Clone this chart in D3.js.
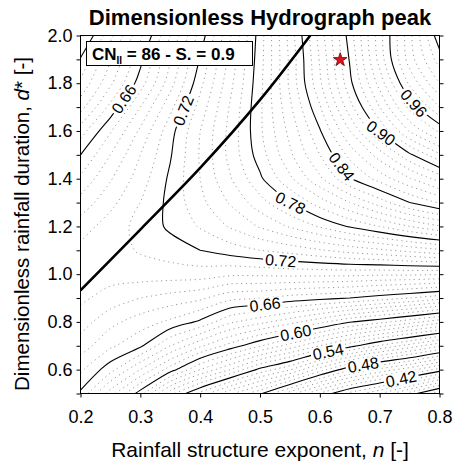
<!DOCTYPE html>
<html><head><meta charset="utf-8">
<script src="https://cdn.jsdelivr.net/npm/d3@7"></script>
<style>
body{margin:0;background:#fff}
text{font-family:"Liberation Sans",Arial,Helvetica,sans-serif;fill:#000}
</style>
</head><body>
<svg id="c" width="454" height="466"></svg>
<script>
// ---------- data ----------
const nValues = [0.2,0.25,0.3,0.35,0.4,0.45,0.5,0.55,0.6,0.65,0.7,0.75,0.8];
const dValues = [2.0,1.9,1.8,1.7,1.6,1.5,1.4,1.3,1.2,1.1,1.0,0.9,0.8,0.7,0.6,0.5];
// dimensionless peak, one row per dValues entry (top to bottom), one column per nValues entry
const peakRows = [
  [0.587,0.617,0.648,0.680,0.714,0.749,0.785,0.824,0.864,0.905,0.946,0.987,1.027],
  [0.601,0.629,0.657,0.689,0.721,0.753,0.786,0.822,0.861,0.901,0.944,0.985,1.015],
  [0.612,0.638,0.665,0.696,0.727,0.757,0.787,0.822,0.858,0.897,0.934,0.972,1.000],
  [0.626,0.653,0.680,0.707,0.734,0.761,0.788,0.818,0.849,0.886,0.920,0.953,0.980],
  [0.645,0.669,0.692,0.716,0.740,0.763,0.788,0.813,0.839,0.870,0.901,0.931,0.952],
  [0.660,0.680,0.700,0.719,0.741,0.763,0.785,0.808,0.830,0.853,0.875,0.898,0.918],
  [0.672,0.689,0.705,0.722,0.740,0.759,0.778,0.798,0.818,0.839,0.854,0.869,0.884],
  [0.684,0.697,0.710,0.723,0.737,0.751,0.766,0.780,0.795,0.810,0.825,0.840,0.851],
  [0.695,0.705,0.713,0.722,0.731,0.741,0.751,0.761,0.771,0.781,0.790,0.800,0.809],
  [0.703,0.706,0.711,0.715,0.720,0.725,0.730,0.734,0.739,0.744,0.748,0.753,0.758],
  [0.704,0.704,0.705,0.705,0.705,0.702,0.702,0.703,0.703,0.703,0.702,0.702,0.701],
  [0.702,0.696,0.690,0.686,0.682,0.673,0.671,0.666,0.663,0.660,0.655,0.650,0.644],
  [0.695,0.683,0.675,0.668,0.658,0.642,0.633,0.624,0.613,0.601,0.593,0.584,0.574],
  [0.685,0.672,0.662,0.640,0.622,0.606,0.591,0.576,0.560,0.544,0.529,0.516,0.502],
  [0.672,0.654,0.630,0.605,0.580,0.560,0.537,0.521,0.495,0.472,0.457,0.444,0.426],
  [0.658,0.625,0.595,0.554,0.527,0.502,0.482,0.455,0.429,0.407,0.391,0.366,0.342]
];
const minorLevels = d3.range(34,105).map(k => k/100);
const majorLevels = [0.36,0.42,0.48,0.54,0.60,0.66,0.72,0.78,0.84,0.90,0.96,1.02];
const labelLevels = [0.66,0.72,0.96,0.90,0.84,0.78,0.72,0.66,0.60,0.54,0.48,0.42];
const labelN      = [0.2735,0.3755,0.758,0.7014,0.6345,0.549,0.534,0.509,0.561,0.6145,0.673,0.7365];
const labelD      = [1.732,1.682,1.719,1.589,1.447,1.288,1.040,0.860,0.739,0.668,0.613,0.555];
const limitN = [0.2,0.3,0.4,0.5,0.584];
const limitD = [0.932,1.187,1.445,1.73,2.0];
const starN = [0.634], starD = [1.898];
const xTicks = [0.2,0.3,0.4,0.5,0.6,0.7,0.8];
const yTicks = [0.5,0.6,0.7,0.8,0.9,1.0,1.1,1.2,1.3,1.4,1.5,1.6,1.7,1.8,1.9,2.0];
const yLabelTicks = [0.6,0.8,1.0,1.2,1.4,1.6,1.8,2.0];

// ---------- layout ----------
const svg = d3.select('#c');
const x = d3.scaleLinear().domain([0.2,0.8]).range([80.5,439.5]);
const y = d3.scaleLinear().domain([0.5,2.0]).range([393.5,35.5]);
const nx = nValues.length, ny = dValues.length;
const gxs = d3.scaleLinear().domain([0.5, nx-0.5]).range([nValues[0], nValues[nx-1]]);
const gys = d3.scaleLinear().domain([0.5, ny-0.5]).range([dValues[0], dValues[ny-1]]);

svg.append('clipPath').attr('id','clip').append('rect')
  .attr('x',x(0.2)).attr('y',y(2.0)).attr('width',x(0.8)-x(0.2)).attr('height',y(0.5)-y(2.0));

const flat = peakRows.flat();
const contours = d3.contours().size([nx,ny]).thresholds(minorLevels)(flat);

function ringLines(ring){
  const eps = 1e-6;
  const inside = p => p[0]>=0.5-eps && p[0]<=nx-0.5+eps && p[1]>=0.5-eps && p[1]<=ny-0.5+eps;
  const pts = ring.slice(0, ring.length-1);
  const m = pts.length;
  const flags = pts.map(inside);
  if (flags.every(f=>f)) return [{pts: pts, closed: true}];
  const s = flags.indexOf(false);
  const out = []; let cur = [];
  for (let k=1;k<=m;k++){
    const i = (s+k)%m;
    if (flags[i]) cur.push(pts[i]);
    else { if (cur.length>1) out.push({pts:cur, closed:false}); cur = []; }
  }
  if (cur.length>1) out.push({pts:cur, closed:false});
  return out;
}
const toPx = p => [x(gxs(p[0])), y(gys(p[1]))];
const isMajor = v => majorLevels.some(m => Math.abs(m-v)<1e-6);

const lineOpen = d3.line().curve(d3.curveCatmullRom.alpha(0.5));
const lineClosed = d3.line().curve(d3.curveCatmullRomClosed.alpha(0.5));

const plot = svg.append('g').attr('clip-path','url(#clip)');
const minorG = plot.append('g');
const majorG = plot.append('g');
const majorPx = new Map();

contours.forEach(c => {
  const major = isMajor(c.value);
  const key = c.value.toFixed(2);
  c.coordinates.forEach(poly => poly.forEach(ring => {
    ringLines(ring).forEach(l => {
      const px = l.pts.map(toPx);
      if (major) {
        if (!majorPx.has(key)) majorPx.set(key, []);
        majorPx.get(key).push(l.closed ? px.concat([px[0]]) : px);
      }
      (major ? majorG : minorG).append('path')
        .attr('d', (l.closed ? lineClosed : lineOpen)(px))
        .attr('fill','none')
        .attr('stroke', major ? '#000' : '#9a9a9a')
        .attr('stroke-width', major ? 1.1 : 1)
        .attr('stroke-dasharray', major ? null : '1.2 3.6');
    });
  }));
});

// limit (thick) line
plot.append('path')
  .attr('d', d3.line().curve(d3.curveCatmullRom.alpha(0.5))(limitN.map((n,i)=>[x(n), y(limitD[i])])))
  .attr('fill','none').attr('stroke','#000').attr('stroke-width',2.6);

// contour labels
const labG = svg.append('g');
labelLevels.forEach((lv,i) => {
  const px = x(labelN[i]), py = y(labelD[i]);
  let best = {dist: Infinity, x: px, y: py, a: 0};
  (majorPx.get(lv.toFixed(2))||[]).forEach(pl => {
    for (let k=0;k<pl.length-1;k++){
      const a = pl[k], b = pl[k+1];
      const vx = b[0]-a[0], vy = b[1]-a[1];
      const L2 = vx*vx+vy*vy; if (L2===0) continue;
      let t = ((px-a[0])*vx + (py-a[1])*vy)/L2; t = Math.max(0, Math.min(1, t));
      const qx = a[0]+t*vx, qy = a[1]+t*vy;
      const dd = (qx-px)**2 + (qy-py)**2;
      if (dd < best.dist) best = {dist: dd, x: qx, y: qy, a: Math.atan2(vy, vx)};
    }
  });
  let ang = best.a*180/Math.PI;
  if (ang > 90) ang -= 180;
  if (ang < -90) ang += 180;
  const g = labG.append('g').attr('transform', `translate(${best.x},${best.y}) rotate(${ang})`);
  const t = g.append('text').text(lv.toFixed(2))
    .attr('text-anchor','middle').attr('dy','0.36em').style('font-size','16px');
  const bb = t.node().getBBox();
  g.insert('rect','text').attr('x', bb.x-2).attr('y', bb.y+2)
    .attr('width', bb.width+4).attr('height', bb.height-4).attr('fill','#fff');
});

// info box
const box = svg.append('g');
box.append('rect').attr('x',86.5).attr('y',41.5).attr('width',166).attr('height',24)
  .attr('fill','#fff').attr('stroke','#000').attr('stroke-width',1);
const bt = box.append('text').attr('x',92).attr('y',60).style('font-size','17px').style('font-weight','bold');
bt.append('tspan').text('CN');
bt.append('tspan').text('II').style('font-size','10px').attr('dy',4);
bt.append('tspan').text(' = 86 - S. = 0.9').attr('dy',-4);

// star
svg.append('path')
  .attr('d', d3.symbol(d3.symbolStar, 58)())
  .attr('transform', `translate(${x(starN[0])},${y(starD[0])})`)
  .attr('fill','#e8101c').attr('stroke','#400').attr('stroke-width',0.7);

// frame
svg.append('rect').attr('x',x(0.2)).attr('y',y(2.0))
  .attr('width',x(0.8)-x(0.2)).attr('height',y(0.5)-y(2.0))
  .attr('fill','none').attr('stroke','#000').attr('stroke-width',1);

// axes
const fmt = d3.format('.1f');
const axB = svg.append('g').attr('transform',`translate(0,${y(0.5)})`)
  .call(d3.axisBottom(x).tickValues(xTicks).tickFormat(fmt).tickSize(4).tickSizeOuter(0).tickPadding(13));
const axL = svg.append('g').attr('transform',`translate(${x(0.2)},0)`)
  .call(d3.axisLeft(y).tickValues(yTicks)
    .tickFormat(v => yLabelTicks.some(t=>Math.abs(t-v)<1e-9) ? fmt(v) : '')
    .tickSize(4).tickSizeOuter(0).tickPadding(4));
const axR = svg.append('g').attr('transform',`translate(${x(0.8)},0)`)
  .call(d3.axisRight(y).tickValues(yTicks).tickFormat('').tickSize(4).tickSizeOuter(0));
[axB,axL,axR].forEach(a => {
  a.select('.domain').remove();
  a.selectAll('line').attr('stroke','#000');
  a.selectAll('text').attr('font-family',null).style('font-size','18px').attr('fill','#000');
});

// titles
svg.append('text').attr('x',260).attr('y',25).attr('text-anchor','middle')
  .style('font-size','22px').style('font-weight','bold').text('Dimensionless Hydrograph peak');
const xt = svg.append('text').attr('x',260).attr('y',457).attr('text-anchor','middle').style('font-size','21px');
xt.append('tspan').text('Rainfall structure exponent, ');
xt.append('tspan').text('n').style('font-style','italic');
xt.append('tspan').text(' [-]');
const yt = svg.append('text').attr('transform','translate(29,224) rotate(-90)').attr('text-anchor','middle').style('font-size','20.5px');
yt.append('tspan').text('Dimensionless rainfall duration, ');
yt.append('tspan').text('d').style('font-style','italic');
yt.append('tspan').text('* [-]');
</script>
</body></html>
